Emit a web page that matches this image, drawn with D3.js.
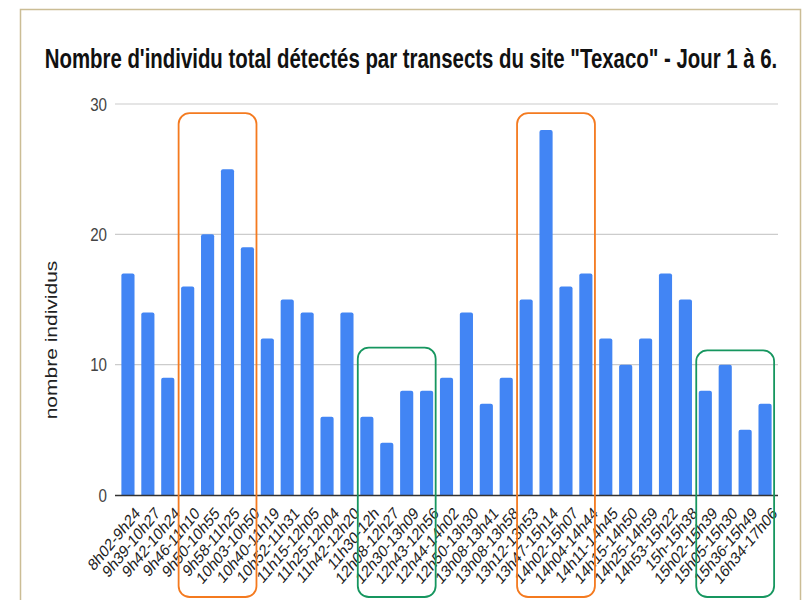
<!DOCTYPE html>
<html><head><meta charset="utf-8">
<script src="https://cdn.jsdelivr.net/npm/d3@7"></script>
<style>body{margin:0;background:#fff}svg{display:block}</style>
</head><body>
<script>
const categories = ["8h02-9h24","9h39-10h27","9h42-10h24","9h46-11h10","9h50-10h55","9h58-11h25","10h03-10h50","10h40-11h19","10h52-11h31","11h15-12h05","11h25-12h04","11h42-12h20","11h30-12h","12h08-12h27","12h30-13h09","12h43-12h56","12h44-14h02","12h50-13h30","13h08-13h41","13h08-13h58","13h12-13h53","13h47-15h14","14h02-15h07","14h04-14h44","14h11-14h45","14h15-14h50","14h25-14h59","14h53-15h22","15h-15h38","15h02-15h39","15h05-15h30","15h36-15h49","16h34-17h06"];
const values = [17,14,9,16,20,25,19,12,15,14,6,14,6,4,8,8,9,14,7,9,15,28,16,17,12,10,12,17,15,8,10,5,7];
const yTicks = [0,10,20,30];
const highlights = [
  {from:"9h46-11h10", to:"10h03-10h50", color:"#f47a1f", top:29.3},
  {from:"13h12-13h53", to:"14h04-14h44", color:"#f47a1f", top:29.3},
  {from:"11h30-12h", to:"12h43-12h56", color:"#16965f", top:11.3},
  {from:"15h02-15h39", to:"16h34-17h06", color:"#16965f", top:11.1}
];

const W = 808, H = 600, SQ = 0.82;
const svg = d3.select("body").append("svg").attr("width", W).attr("height", H);

svg.append("rect").attr("x", 20.5).attr("y", 9.5).attr("width", 780).attr("height", 620)
  .attr("fill", "#fff").attr("stroke", "#cbbd95").attr("stroke-width", 1.5);

const plotL = 115, plotR = 778, plotT = 104, plotB = 495;
const y = d3.scaleLinear().domain([0, 30]).range([plotB, plotT]);
const x = d3.scaleBand().domain(categories).range([118, 775]).paddingInner(0.34).paddingOuter(0.17);

// title: squeezed horizontally to fit the reference width
const title = svg.append("text").attr("text-anchor", "middle")
  .attr("font-family", "'Liberation Sans',Arial,sans-serif")
  .attr("font-weight", "bold").attr("font-size", 27)
  .attr("fill", "#111")
  .text("Nombre d'individu total détectés par transects du site \"Texaco\" - Jour 1 à 6.");
const tLen = title.node().getComputedTextLength();
title.attr("transform", `translate(411,68) scale(${733 / tLen},1)`);

// gridlines
svg.append("g").selectAll("line").data(yTicks.filter(d => d > 0)).join("line")
  .attr("x1", plotL).attr("x2", plotR).attr("y1", d => y(d)).attr("y2", d => y(d))
  .attr("stroke", "#cccccc").attr("stroke-width", 1.2);

// y labels
svg.append("g").selectAll("text").data(yTicks).join("text")
  .attr("transform", d => `translate(107,${y(d)}) scale(${SQ},1)`)
  .attr("dy", "0.36em").attr("text-anchor", "end")
  .attr("font-family", "'Liberation Sans',Arial,sans-serif")
  .attr("font-size", 18.5).attr("fill", "#444").text(d => d);

// y title
svg.append("text").attr("transform", `translate(57,${(260+420)/2}) rotate(-90) scale(1,${SQ})`)
  .attr("text-anchor", "middle").attr("font-family", "'Liberation Sans',Arial,sans-serif")
  .attr("font-size", 21).attr("fill", "#222").text("nombre individus");

// bars
svg.append("g").selectAll("path").data(values).join("path")
  .attr("fill", "#4285f4")
  .attr("d", (d, i) => {
    const x0 = x(categories[i]), w = x.bandwidth(), y0 = y(d), r = 2;
    return `M${x0},${plotB}V${y0 + r}Q${x0},${y0} ${x0 + r},${y0}H${x0 + w - r}Q${x0 + w},${y0} ${x0 + w},${y0 + r}V${plotB}Z`;
  });

// baseline
svg.append("line").attr("x1", plotL).attr("x2", plotR).attr("y1", plotB + 0.5).attr("y2", plotB + 0.5)
  .attr("stroke", "#333").attr("stroke-width", 1.6);

// x labels
svg.append("g").selectAll("text").data(categories).join("text")
  .attr("transform", d => `translate(${x(d) + x.bandwidth() / 2 + 6},${plotB + 11}) scale(${SQ},1) rotate(-45)`)
  .attr("text-anchor", "end").attr("dy", "0.7em")
  .attr("font-family", "'Liberation Sans',Arial,sans-serif")
  .attr("font-size", 17).attr("fill", "#222").text(d => d);

// highlight boxes
svg.append("g").selectAll("rect").data(highlights).join("rect")
  .attr("x", d => x(d.from) - 2.5)
  .attr("y", d => y(d.top))
  .attr("width", d => x(d.to) + x.bandwidth() + 2.5 - (x(d.from) - 2.5))
  .attr("height", d => 597 - y(d.top))
  .attr("rx", 11).attr("ry", 11)
  .attr("fill", "none").attr("stroke", d => d.color).attr("stroke-width", 1.8);
</script>
</body></html>
